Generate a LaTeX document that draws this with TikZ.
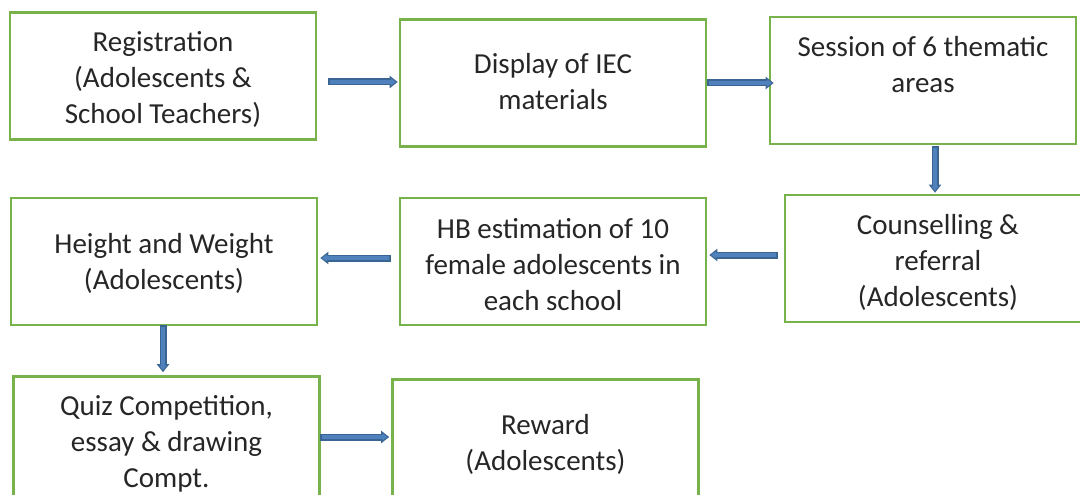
\documentclass[tikz,border=0pt]{standalone}
\usepackage{fontspec}
\setmainfont{Carlito}
\usetikzlibrary{arrows.meta}
\definecolor{boxgreen}{HTML}{77B24B}
\definecolor{arrfill}{HTML}{4F81BD}
\definecolor{arrline}{HTML}{3A6491}
\definecolor{txt}{HTML}{262626}
\newcommand{\tx}[2][4.5pt]{\raisebox{-#1}[\height][\depth]{\begin{tabular}{@{}c@{}}#2\end{tabular}}}
\tikzset{
  stepbox/.style={draw=boxgreen, line width=2.6pt, minimum width=306pt, minimum height=127pt,
    inner sep=0pt, text=txt, font=\fontsize{29pt}{36pt}\selectfont},
  arrout/.style={draw=arrline, line width=7pt, -{Triangle[length=8pt,width=12pt]}},
  arrin/.style={draw=arrfill, line width=3.6pt, -{Triangle[length=5pt,width=7pt]}},
}
\newcommand{\blockarrow}[4]{%
  \draw[arrout, shorten <=#3, shorten >=#4] #1 -- #2;
  \draw[arrin, shorten <=#3+1.7pt, shorten >=#4+1.8pt] #1 -- #2;
}
\begin{document}
\begin{tikzpicture}[x=1pt,y=-1pt]
\useasboundingbox (0,0) rectangle (1080,495);
\node[stepbox] (reg) at (163,76) {\tx{Registration\\(Adolescents \&\\School Teachers)}};
\node[stepbox] (iec) at (553,83) {\tx[1pt]{Display of IEC\\materials}};
\node[stepbox] (ses) at (923,80.5) {\tx[5pt]{Session of 6 thematic\\areas\\\mbox{}}};
\node[stepbox] (cou) at (938,258.5) {\tx[5pt]{Counselling \&\\referral\\(Adolescents)}};
\node[stepbox] (hb) at (553,261.5) {\tx[5.5pt]{HB estimation of 10\\female adolescents in\\each school}};
\node[stepbox] (hw) at (164,261.5) {\tx[3pt]{Height and Weight\\(Adolescents)}};
\node[stepbox] (quiz) at (166.5,440) {\tx{Quiz Competition,\\essay \& drawing\\Compt.}};
\node[stepbox] (rew) at (545.5,443) {\tx[2pt]{Reward\\(Adolescents)}};
% connectors
\blockarrow{(reg.east |- 0,82)}{(iec.west |- 0,82)}{11pt}{1pt}
\blockarrow{(iec.east |- 0,83)}{(ses.west |- 0,83)}{0pt}{-5pt}
\blockarrow{(ses.south -| 935,0)}{(cou.north -| 935,0)}{1pt}{1pt}
\blockarrow{(cou.west |- 0,255)}{(hb.east |- 0,255)}{6pt}{2pt}
\blockarrow{(hb.west |- 0,258)}{(hw.east |- 0,258)}{8pt}{2pt}
\blockarrow{(hw.south -| 163,0)}{(quiz.north -| 163,0)}{-1pt}{3pt}
\blockarrow{(quiz.east |- 0,437)}{(rew.west |- 0,437)}{-1pt}{2pt}
\end{tikzpicture}
\end{document}
